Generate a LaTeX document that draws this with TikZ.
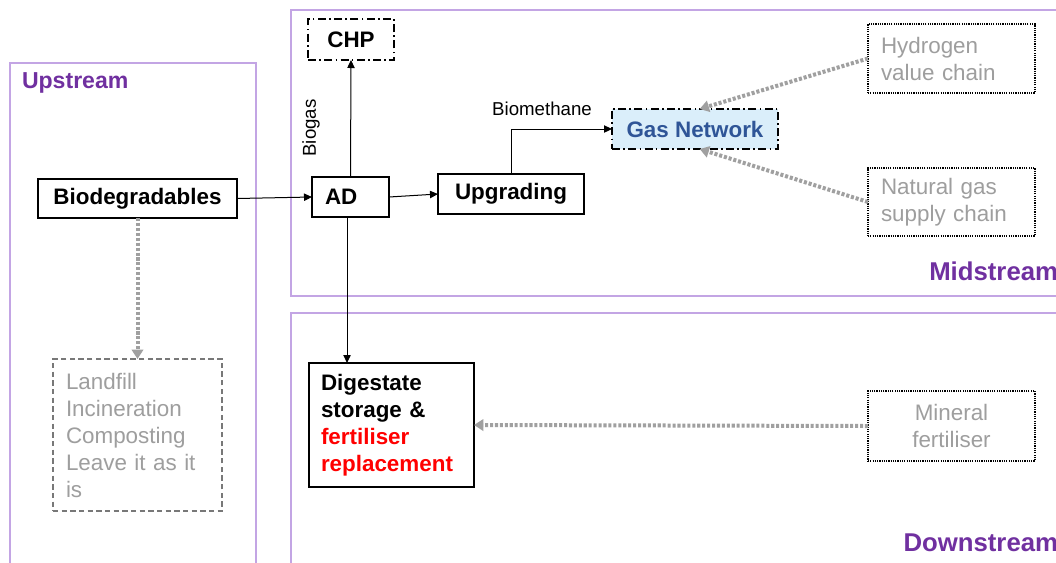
\documentclass[tikz,border=0pt]{standalone}
\usepackage{fontspec}
\setmainfont{Liberation Sans}
\usetikzlibrary{arrows.meta}
\definecolor{framec}{RGB}{195,165,228}
\definecolor{labc}{RGB}{112,48,160}
\definecolor{gtext}{RGB}{158,158,158}
\definecolor{garrow}{RGB}{160,160,160}
\definecolor{gdash}{RGB}{120,120,120}
\definecolor{gnfill}{RGB}{218,238,250}
\definecolor{gntext}{RGB}{47,85,151}
\begin{document}
\begin{tikzpicture}[x=0.75pt,y=-0.75pt,
  every node/.style={inner sep=0pt,outer sep=0pt,font=\fontsize{16.8}{20.25}\selectfont},
  frame/.style={draw=framec,line width=0.9pt},
  stagelabel/.style={text=labc,font=\fontsize{17.3}{21}\selectfont\bfseries},
  solidbox/.style={draw=black,line width=1.1pt,font=\fontsize{16.8}{20.25}\selectfont\bfseries},
  dashdotbox/.style={draw=black,line width=1.1pt,dash pattern=on 6pt off 2.5pt on 1.2pt off 2.5pt,font=\fontsize{16.8}{20.25}\selectfont\bfseries},
  dotbox/.style={draw=black,line width=1.3pt,dash pattern=on 0.9pt off 0.8pt,text=gtext},
  dashbox/.style={draw=gdash,line width=1.3pt,dash pattern=on 4pt off 2.5pt,text=gtext},
  flow/.style={draw=black,line width=0.75pt,-{Triangle[length=6pt,width=5.5pt]}},
  altflow/.style={draw=garrow,line width=3pt,dash pattern=on 2.3pt off 1.4pt,-{Triangle[length=7pt,width=8.5pt]}},
  smalllabel/.style={font=\fontsize{14}{16}\selectfont}
]
\useasboundingbox (0,0) rectangle (1056,562);
\fill[white] (0,0) rectangle (1056,562);

% stage frames
\draw[frame] (10,570) -- (10,63) -- (256,63) -- (256,570);
\draw[frame] (1062,10) -- (291,10) -- (291,296) -- (1062,296);
\draw[frame] (1062,313) -- (291,313) -- (291,570);

\node[stagelabel,anchor=west] (up) at (22,83) {Upstream};
\node[stagelabel,anchor=east,font=\fontsize{19.3}{22}\selectfont\bfseries] (mid) at (1058,271) {Midstream};
\node[stagelabel,anchor=east,font=\fontsize{19.3}{22}\selectfont\bfseries] (down) at (1058,543) {Downstream};

% main nodes
\node[solidbox,minimum width=149.25pt,minimum height=29.25pt] (bio) at (137.5,198.5) {Biodegradables};
\node[solidbox,minimum height=30pt,inner xsep=9.75pt,text width=38.25pt,align=left] (ad) at (350.5,197) {AD};
\node[solidbox,minimum width=109.5pt,minimum height=30pt] (upg) at (511,194) {Upgrading};
\node[dashdotbox,minimum width=64.5pt,minimum height=30.75pt] (chp) at (351,39.5) {CHP};
\node[dashdotbox,fill=gnfill,text=gntext,minimum width=124.5pt,minimum height=30pt] (gas) at (695,129) {Gas Network};
\node[dotbox,minimum height=51.75pt,inner xsep=9.75pt,text width=105.75pt,align=left] (hyd) at (951.5,58.5) {Hydrogen\\value chain};
\node[dotbox,minimum height=51pt,inner xsep=9.75pt,text width=105.75pt,align=left] (nat) at (951.5,202) {Natural gas\\supply chain};
\node[dotbox,minimum width=125.25pt,minimum height=52.5pt,align=center] (min) at (951.5,426) {Mineral\\fertiliser};
\node[dashbox,minimum height=114pt,inner xsep=9.75pt,text width=107.25pt,align=left] (land) at (137.5,435) {Landfill\\Incineration\\Composting\\Leave it as it\\is};
\node[solidbox,minimum height=93pt,inner xsep=9pt,text width=105.75pt,align=left] (dig) at (391.5,425) {Digestate\\storage \&\\\textcolor{red}{fertiliser}\\\textcolor{red}{replacement}};

% labels
\node[smalllabel] (biomlab) at (542,109) {Biomethane};
\node[smalllabel,rotate=90] (biogaslab) at (311,128) {Biogas};

% connectors
\draw[flow] (bio.east) -- (ad.west);
\draw[flow] (ad.east) -- (upg.west);
\draw[flow] (ad.north) -- (chp.south);
\draw[flow] ([xshift=-2.6pt]ad.south) -- ([xshift=-2.6pt]ad.south |- dig.north);
\draw[flow] (upg.north) |- (gas.west);
\draw[altflow] (hyd.west) -- ([xshift=3.5pt]gas.north);
\draw[altflow] (nat.west) -- ([xshift=3.5pt]gas.south);
\draw[altflow] (bio.south) -- (land.north);
\draw[altflow] (min.west) -- (dig.east);
\end{tikzpicture}
\end{document}
